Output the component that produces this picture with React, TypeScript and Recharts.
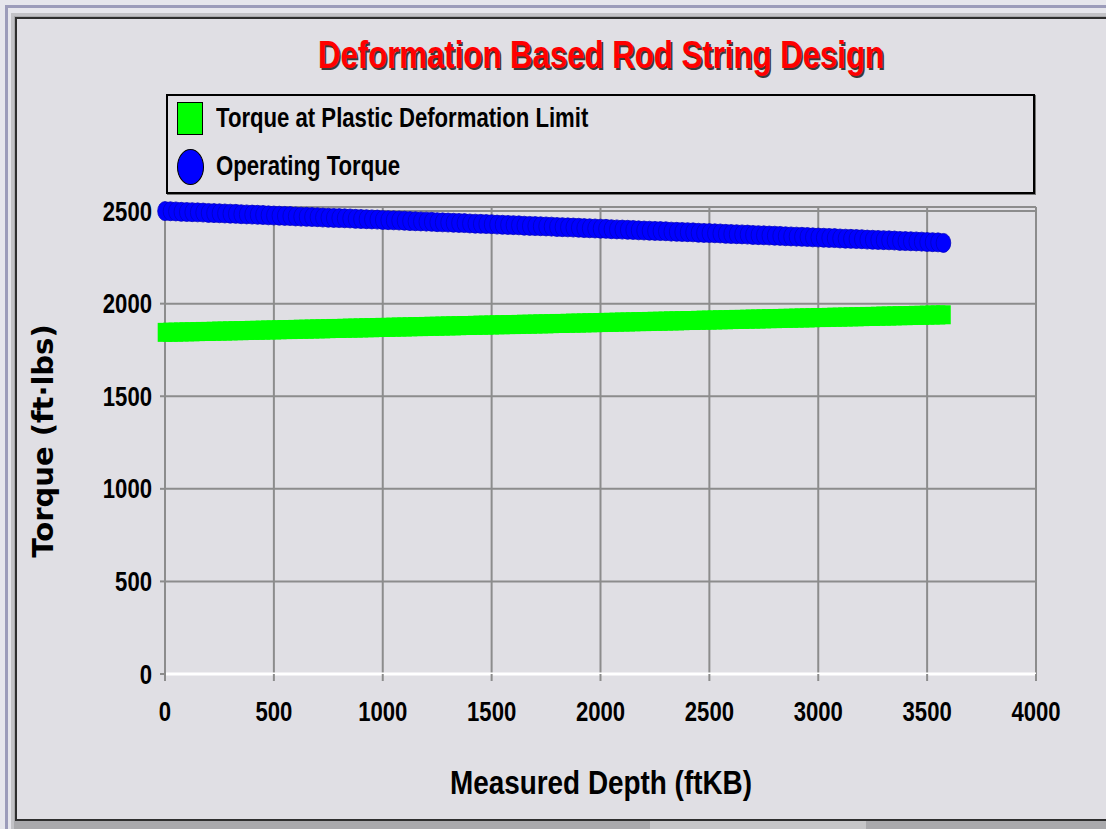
import React from 'react';
import { ScatterChart, Scatter, XAxis, YAxis, CartesianGrid, ReferenceLine } from 'recharts';

// measured depth of each station (ftKB)
const depths = [
  0, 25, 50, 75, 100, 125, 150, 175, 200, 225, 250, 275, 300, 325, 350, 375, 400, 425, 450, 475,
  500, 525, 550, 575, 600, 625, 650, 675, 700, 725, 750, 775, 800, 825, 850, 875, 900, 925, 950, 975,
  1000, 1025, 1050, 1075, 1100, 1125, 1150, 1175, 1200, 1225, 1250, 1275, 1300, 1325, 1350, 1375,
  1400, 1425, 1450, 1475, 1500, 1525, 1550, 1575, 1600, 1625, 1650, 1675, 1700, 1725, 1750, 1775,
  1800, 1825, 1850, 1875, 1900, 1925, 1950, 1975, 2000, 2025, 2050, 2075, 2100, 2125, 2150, 2175,
  2200, 2225, 2250, 2275, 2300, 2325, 2350, 2375, 2400, 2425, 2450, 2475, 2500, 2525, 2550, 2575,
  2600, 2625, 2650, 2675, 2700, 2725, 2750, 2775, 2800, 2825, 2850, 2875, 2900, 2925, 2950, 2975,
  3000, 3025, 3050, 3075, 3100, 3125, 3150, 3175, 3200, 3225, 3250, 3275, 3300, 3325, 3350, 3375,
  3400, 3425, 3450, 3475, 3500, 3525, 3550, 3575,
];

// ft-lbs
const plasticLimitTorque = [
  1845, 1846, 1846, 1847, 1848, 1848, 1849, 1850, 1850, 1851, 1852, 1852, 1853, 1854, 1854, 1855, 1856, 1856, 1857, 1858,
  1858, 1859, 1860, 1860, 1861, 1862, 1862, 1863, 1864, 1864, 1865, 1866, 1866, 1867, 1868, 1868, 1869, 1870, 1870, 1871,
  1872, 1872, 1873, 1874, 1874, 1875, 1876, 1876, 1877, 1878, 1878, 1879, 1880, 1880, 1881, 1882,
  1882, 1883, 1884, 1884, 1885, 1886, 1886, 1887, 1887, 1888, 1889, 1889, 1890, 1891, 1891, 1892,
  1893, 1893, 1894, 1895, 1895, 1896, 1897, 1897, 1898, 1899, 1899, 1900, 1901, 1901, 1902, 1903,
  1903, 1904, 1905, 1905, 1906, 1907, 1907, 1908, 1909, 1909, 1910, 1911, 1911, 1912, 1913, 1913,
  1914, 1915, 1915, 1916, 1917, 1917, 1918, 1919, 1919, 1920, 1921, 1921, 1922, 1923, 1923, 1924,
  1925, 1925, 1926, 1927, 1927, 1928, 1929, 1929, 1930, 1931, 1931, 1932, 1933, 1933, 1934, 1935,
  1935, 1936, 1937, 1937, 1938, 1939, 1939, 1940,
];

const operatingTorque = [
  2500, 2499, 2498, 2496, 2495, 2494, 2493, 2492, 2490, 2489, 2488, 2487, 2486, 2485, 2483, 2482, 2481, 2480, 2479, 2477,
  2476, 2475, 2474, 2473, 2471, 2470, 2469, 2468, 2467, 2465, 2464, 2463, 2462, 2461, 2460, 2458, 2457, 2456, 2455, 2454,
  2452, 2451, 2450, 2449, 2448, 2446, 2445, 2444, 2443, 2442, 2440, 2439, 2438, 2437, 2436, 2435,
  2433, 2432, 2431, 2430, 2429, 2427, 2426, 2425, 2424, 2423, 2421, 2420, 2419, 2418, 2417, 2416,
  2414, 2413, 2412, 2411, 2410, 2408, 2407, 2406, 2405, 2404, 2402, 2401, 2400, 2399, 2398, 2396,
  2395, 2394, 2393, 2392, 2391, 2389, 2388, 2387, 2386, 2385, 2383, 2382, 2381, 2380, 2379, 2377,
  2376, 2375, 2374, 2373, 2371, 2370, 2369, 2368, 2367, 2366, 2364, 2363, 2362, 2361, 2360, 2358,
  2357, 2356, 2355, 2354, 2352, 2351, 2350, 2349, 2348, 2346, 2345, 2344, 2343, 2342, 2341, 2339,
  2338, 2337, 2336, 2335, 2333, 2332, 2331, 2328,
];

const xTicks = [0, 500, 1000, 1500, 2000, 2500, 3000, 3500, 4000];
const yTicks = [0, 500, 1000, 1500, 2000, 2500];
const yTop = 2522;
const seriesNames = ['Torque at Plastic Deformation Limit', 'Operating Torque'];

const limitData = depths.map((d, i) => ({ depth: d, torque: plasticLimitTorque[i] }));
const operatingData = depths.map((d, i) => ({ depth: d, torque: operatingTorque[i] }));

const SANS = "'Liberation Sans', Arial, sans-serif";
const NARROW_X = 0.82; // squeeze to mimic Arial Narrow
const PANEL = '#e0dfe4';
const GRID = '#8c8c8c';

const narrowText: React.CSSProperties = {
  fontFamily: SANS, fontWeight: 700, color: '#000', whiteSpace: 'nowrap',
};

const GreenBlock = (p: any) => (
  <rect x={p.cx - 7.3} y={p.cy - 9.5} width={14.6} height={19} fill="#00ff00" />
);
const BlueDot = (p: any) => (
  <ellipse cx={p.cx} cy={p.cy} rx={7.3} ry={9.5} fill="#0000ff" stroke="#0000c0" strokeWidth={0.8} />
);

const XTick = (p: any) => (
  <text
    transform={`translate(${p.x},${p.y}) scale(${NARROW_X},1)`}
    textAnchor="middle" dy="0.71em" fill="#000"
    style={{ fontFamily: SANS, fontWeight: 700, fontSize: 27 }}
  >
    {p.payload.value}
  </text>
);
const YTick = (p: any) => (
  <text
    transform={`translate(${p.x},${p.y}) scale(${NARROW_X},1)`}
    textAnchor="end" dy="0.355em" fill="#000"
    style={{ fontFamily: SANS, fontWeight: 700, fontSize: 27 }}
  >
    {p.payload.value}
  </text>
);

const LegendBox = () => (
  <div
    style={{
      position: 'absolute', left: 166, top: 94, width: 865, height: 96,
      border: '2px solid #000', boxShadow: '1px 1px 0 #777', fontSize: 27,
    }}
  >
    <div style={{ position: 'absolute', left: 9, top: 6, width: 24, height: 31, background: '#00ff00', border: '1.5px solid #000' }} />
    <div style={{ ...narrowText, position: 'absolute', left: 48, top: 6, lineHeight: '32px', transform: `scaleX(${NARROW_X})`, transformOrigin: 'left center' }}>
      {seriesNames[0]}
    </div>
    <div style={{ position: 'absolute', left: 9, top: 53, width: 25, height: 34, borderRadius: '50%', background: '#0000ff', border: '1.5px solid #000' }} />
    <div style={{ ...narrowText, position: 'absolute', left: 48, top: 54, lineHeight: '32px', transform: `scaleX(${NARROW_X})`, transformOrigin: 'left center' }}>
      {seriesNames[1]}
    </div>
  </div>
);

export default function App() {
  return (
    <div style={{ position: 'absolute', left: 0, top: 0, width: 1106, height: 829, background: '#e6e6ec', overflow: 'hidden' }}>
      {/* window frame */}
      <div style={{ position: 'absolute', left: 5, top: 5, right: -10, bottom: -10, borderLeft: '3px solid #9c9cba', borderTop: '3px solid #9c9cba' }} />
      <div style={{ position: 'absolute', left: 11, top: 13, right: -10, bottom: 0, borderLeft: '3px solid #c2c2c6', borderTop: '3px solid #c2c2c6', background: '#a9a9ac' }} />
      <div style={{ position: 'absolute', left: 650, top: 821, width: 216, height: 8, background: '#c6c6c8' }} />
      <div style={{ position: 'absolute', left: 15, top: 17, width: 1100, height: 800, borderLeft: '2px solid #2e2e2e', borderTop: '2px solid #2e2e2e', borderBottom: '2px solid #2e2e2e', background: PANEL }} />

      <div
        style={{
          ...narrowText, position: 'absolute', left: 201, top: 33, width: 800, textAlign: 'center',
          fontSize: 38, lineHeight: '44px', color: '#ff0000', textShadow: '2px 2px 0 #3a3a3a',
          transform: `scaleX(${NARROW_X})`,
        }}
      >
        Deformation Based Rod String Design
      </div>

      <div
        style={{
          position: 'absolute', left: 43, top: 441, transform: 'translate(-50%, -50%) rotate(-90deg)',
          whiteSpace: 'nowrap', fontFamily: "'DejaVu Sans', Verdana, sans-serif", fontWeight: 700, fontSize: 29, color: '#000',
        }}
      >
        Torque (ft·lbs)
      </div>

      <div
        style={{
          ...narrowText, position: 'absolute', left: 201, top: 762, width: 800, textAlign: 'center',
          fontSize: 34, lineHeight: '40px', transform: `scaleX(${NARROW_X})`,
        }}
      >
        Measured Depth (ftKB)
      </div>

      <div style={{ position: 'absolute', left: 0, top: 0 }}>
        <ScatterChart width={1106} height={829} margin={{ top: 207, right: 70, bottom: 105, left: 95 }}>
          <CartesianGrid stroke={GRID} strokeWidth={2} fill={PANEL} />
          <ReferenceLine y={yTop} stroke={GRID} strokeWidth={2} />
          <XAxis
            type="number" dataKey="depth" domain={[0, 4000]} ticks={xTicks} height={50}
            axisLine={{ stroke: '#ffffff', strokeWidth: 3 }} tickLine={{ stroke: GRID, strokeWidth: 2 }}
            tickSize={7} tickMargin={21} tick={<XTick />}
          />
          <YAxis
            type="number" dataKey="torque" domain={[0, yTop]} ticks={yTicks} width={70}
            axisLine={{ stroke: GRID, strokeWidth: 2 }} tickLine={{ stroke: GRID, strokeWidth: 2 }}
            tickSize={5} tickMargin={8} tick={<YTick />}
          />
          <Scatter name={seriesNames[0]} data={limitData} shape={GreenBlock} isAnimationActive={false} />
          <Scatter name={seriesNames[1]} data={operatingData} shape={BlueDot} isAnimationActive={false} />
        </ScatterChart>
      </div>

      <LegendBox />
    </div>
  );
}
